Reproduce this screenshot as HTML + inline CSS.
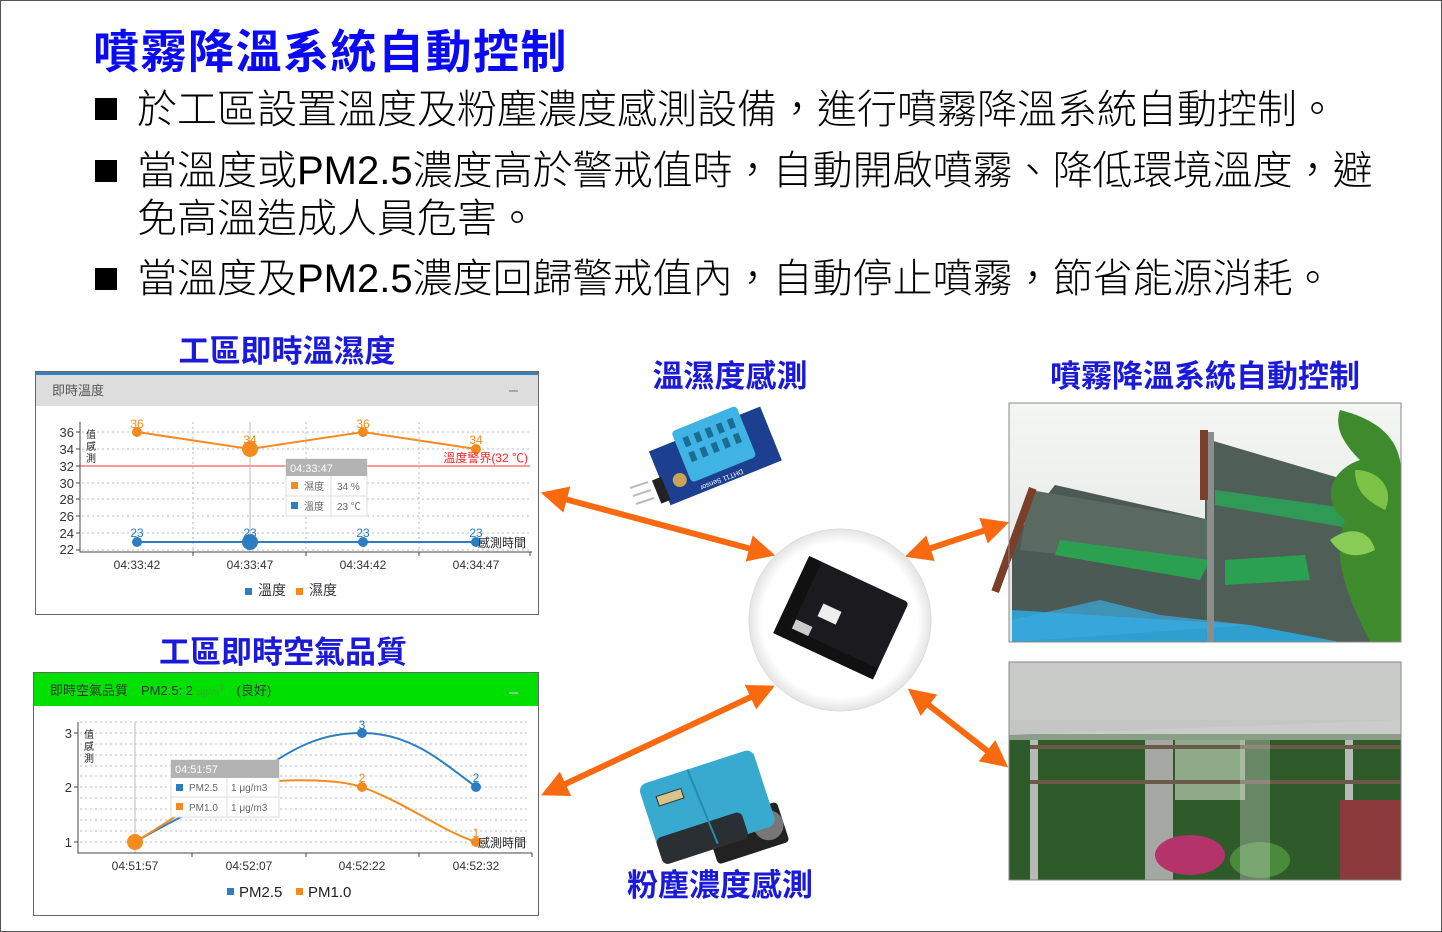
<!DOCTYPE html>
<html><head><meta charset="utf-8"><style>
body{margin:0;width:1442px;height:932px;overflow:hidden;background:#fff;font-family:"Liberation Sans","Noto Sans CJK TC",sans-serif}
.wrap{position:absolute;left:0;top:0;width:1440px;height:930px;border:1px solid #555}
.t{position:absolute;white-space:nowrap}
.b{font-size:40px;font-weight:300;line-height:1}
</style></head><body><div class="wrap"></div>
<div class="t" style="left:93px;top:22px;font-size:46px;font-weight:bold;color:#0a0af5;letter-spacing:1.5px;font-family:'Noto Sans CJK TC',sans-serif;line-height:1.2">噴霧降溫系統自動控制</div>
<div class="t" style="left:95px;top:98px;width:22px;height:22px;background:#000"></div>
<div class="t b" style="left:137px;top:90px">於工區設置溫度及粉塵濃度感測設備，進行噴霧降溫系統自動控制。</div>
<div class="t" style="left:95px;top:160px;width:22px;height:22px;background:#000"></div>
<div class="t b" style="left:137px;top:151px">當溫度或PM2.5濃度高於警戒值時，自動開啟噴霧、降低環境溫度，避</div>
<div class="t b" style="left:137px;top:199px">免高溫造成人員危害。</div>
<div class="t" style="left:95px;top:268px;width:22px;height:22px;background:#000"></div>
<div class="t b" style="left:137px;top:259px">當溫度及PM2.5濃度回歸警戒值內，自動停止噴霧，節省能源消耗。</div>

<svg width="1442" height="932" style="position:absolute;left:0;top:0" font-family="Liberation Sans,Noto Sans CJK TC,sans-serif">
<defs>
<marker id="ah" viewBox="0 0 10 10" refX="8" refY="5" markerWidth="4.5" markerHeight="4.5" orient="auto-start-reverse"><path d="M0,0L10,5L0,10z" fill="#f96a10"/></marker>
<radialGradient id="cg"><stop offset="0.85" stop-color="#fff"/><stop offset="1" stop-color="#e4e4e4"/></radialGradient>
<linearGradient id="sky" x1="0" y1="0" x2="0" y2="1"><stop offset="0" stop-color="#f4f6f4"/><stop offset="1" stop-color="#dfe3e0"/></linearGradient>
</defs>
<g font-weight="bold" fill="#1a1ad8" font-size="31" font-family="Noto Sans CJK TC,sans-serif">
<text x="287" y="362" text-anchor="middle">工區即時溫濕度</text>
<text x="730" y="387" text-anchor="middle">溫濕度感測</text>
<text x="1205" y="387" text-anchor="middle">噴霧降溫系統自動控制</text>
<text x="283" y="663" text-anchor="middle">工區即時空氣品質</text>
<text x="720" y="896" text-anchor="middle">粉塵濃度感測</text>
</g>

<rect x="35.5" y="371.5" width="503" height="243" fill="#fff" stroke="#666"/>
<rect x="36" y="372" width="502" height="34" fill="#ddd"/>
<rect x="36" y="372" width="502" height="3" fill="#3a7fb8"/>
<text x="52" y="395" font-size="13" fill="#555">即時溫度</text>
<rect x="509" y="390" width="9" height="2" fill="#9ab"/>
<g stroke="#bbb" stroke-dasharray="2,3" stroke-width="1">
<line x1="82" y1="432" x2="530" y2="432"/><line x1="82" y1="449" x2="530" y2="449"/><line x1="82" y1="483" x2="530" y2="483"/><line x1="82" y1="499" x2="530" y2="499"/><line x1="82" y1="516" x2="530" y2="516"/><line x1="82" y1="533" x2="530" y2="533"/><line x1="82" y1="550" x2="530" y2="550"/>
<line x1="193" y1="422" x2="193" y2="552"/><line x1="306" y1="422" x2="306" y2="552"/><line x1="419" y1="422" x2="419" y2="552"/>
</g>
<line x1="80" y1="466" x2="530" y2="466" stroke="#f33" stroke-width="1"/>
<line x1="250" y1="422" x2="250" y2="552" stroke="#bbb"/>
<path d="M80,422V552H532M80,432h-4M80,449h-4M80,466h-4M80,483h-4M80,499h-4M80,516h-4M80,533h-4M80,550h-4M193,552v4M306,552v4M419,552v4M530,552v4" stroke="#444" fill="none"/>
<g font-size="13" fill="#333" text-anchor="end"><text x="74" y="437">36</text><text x="74" y="454">34</text><text x="74" y="471">32</text><text x="74" y="488">30</text><text x="74" y="504">28</text><text x="74" y="521">26</text><text x="74" y="538">24</text><text x="74" y="554">22</text></g>
<text x="86" y="438" font-size="10" fill="#222">值</text><text x="86" y="450" font-size="10" fill="#222">感</text><text x="86" y="462" font-size="10" fill="#222">測</text>
<path d="M137,432L250,449L363,432L476,449" stroke="#f58a1f" stroke-width="2" fill="none"/>
<circle cx="137" cy="432" r="5" fill="#f58a1f"/><circle cx="250" cy="449" r="8" fill="#f58a1f"/><circle cx="363" cy="432" r="5" fill="#f58a1f"/><circle cx="476" cy="449" r="5" fill="#f58a1f"/>
<g font-size="12" fill="#f58a1f" text-anchor="middle"><text x="137" y="428">36</text><text x="250" y="444">34</text><text x="363" y="428">36</text><text x="476" y="444">34</text></g>
<text x="528" y="462" font-size="12" fill="#f22" text-anchor="end">溫度警界(32 ℃)</text>
<line x1="137" y1="542" x2="476" y2="542" stroke="#2d7ec0" stroke-width="2"/>
<circle cx="137" cy="542" r="5" fill="#2d7ec0"/><circle cx="250" cy="542" r="8" fill="#2d7ec0"/><circle cx="363" cy="542" r="5" fill="#2d7ec0"/><circle cx="476" cy="542" r="5" fill="#2d7ec0"/>
<g font-size="12" fill="#2d7ec0" text-anchor="middle"><text x="137" y="537">23</text><text x="250" y="537">23</text><text x="363" y="537">23</text><text x="476" y="537">23</text></g>
<text x="526" y="547" font-size="12" fill="#222" text-anchor="end">感測時間</text>
<g font-size="12" fill="#333" text-anchor="middle"><text x="137" y="569">04:33:42</text><text x="250" y="569">04:33:47</text><text x="363" y="569">04:34:42</text><text x="476" y="569">04:34:47</text></g>
<rect x="245" y="588" width="7" height="7" fill="#2d7ec0"/><text x="258" y="595" font-size="14" fill="#333">溫度</text>
<rect x="296" y="588" width="7" height="7" fill="#f58a1f"/><text x="309" y="595" font-size="14" fill="#333">濕度</text>
<rect x="286" y="459" width="81" height="57" fill="#fff" stroke="#ddd"/>
<rect x="286" y="459" width="81" height="17" fill="#b3b3b3"/>
<text x="290" y="472" font-size="11" fill="#fff">04:33:47</text>
<rect x="291" y="482" width="7" height="7" fill="#f58a1f"/><text x="304" y="490" font-size="10" fill="#666">濕度</text><text x="337" y="490" font-size="10" fill="#666">34 %</text>
<rect x="291" y="502" width="7" height="7" fill="#2d7ec0"/><text x="304" y="510" font-size="10" fill="#666">溫度</text><text x="337" y="510" font-size="10" fill="#666">23 ℃</text>
<line x1="286" y1="496" x2="367" y2="496" stroke="#ddd"/><line x1="331" y1="476" x2="331" y2="516" stroke="#ddd"/>

<rect x="33.5" y="672.5" width="505" height="243" fill="#fff" stroke="#666"/>
<rect x="34" y="673" width="504" height="33" fill="#00e000"/>
<text x="50" y="695" font-size="13" fill="#333">即時空氣品質　PM2.5: 2 <tspan font-size="10" fill="#3a3">μg/m</tspan><tspan font-size="8" dy="-5" fill="#3a3">3</tspan><tspan dy="5">　(良好)</tspan></text>
<rect x="509" y="692" width="9" height="2" fill="#8c8"/>
<g stroke="#bbb" stroke-dasharray="2,3">
<line x1="80" y1="722" x2="530" y2="722"/><line x1="80" y1="733" x2="530" y2="733"/><line x1="80" y1="744" x2="530" y2="744"/><line x1="80" y1="755" x2="530" y2="755"/><line x1="80" y1="766" x2="530" y2="766"/><line x1="80" y1="776" x2="530" y2="776"/><line x1="80" y1="787" x2="530" y2="787"/><line x1="80" y1="798" x2="530" y2="798"/><line x1="80" y1="809" x2="530" y2="809"/><line x1="80" y1="820" x2="530" y2="820"/><line x1="80" y1="831" x2="530" y2="831"/><line x1="80" y1="842" x2="530" y2="842"/>
</g>
<line x1="135" y1="722" x2="135" y2="853" stroke="#bbb"/>
<path d="M78,722V853H532M78,733h-4M78,787h-4M78,842h-4M192,853v4M306,853v4M419,853v4M532,853v4" stroke="#444" fill="none"/>
<g font-size="13" fill="#333" text-anchor="end"><text x="72" y="738">3</text><text x="72" y="792">2</text><text x="72" y="847">1</text></g>
<text x="84" y="738" font-size="10" fill="#222">值</text><text x="84" y="750" font-size="10" fill="#222">感</text><text x="84" y="762" font-size="10" fill="#222">測</text>
<path d="M135,842C190,810 220,800 249,780C300,740 330,733 362,733C410,733 440,760 476,787" stroke="#2d7ec0" stroke-width="2" fill="none"/>
<path d="M135,842C180,815 210,790 249,783C300,778 340,780 362,787C410,805 440,830 476,842" stroke="#f58a1f" stroke-width="2" fill="none"/>
<circle cx="362" cy="733" r="5" fill="#2d7ec0"/><circle cx="476" cy="787" r="5" fill="#2d7ec0"/>
<circle cx="362" cy="787" r="5" fill="#f58a1f"/><circle cx="476" cy="842" r="5" fill="#f58a1f"/><circle cx="135" cy="842" r="8" fill="#f58a1f"/>
<g font-size="12" text-anchor="middle"><text x="362" y="729" fill="#2d7ec0">3</text><text x="476" y="782" fill="#2d7ec0">2</text><text x="362" y="782" fill="#f58a1f">2</text><text x="476" y="837" fill="#f58a1f">1</text></g>
<text x="526" y="847" font-size="12" fill="#222" text-anchor="end">感測時間</text>
<g font-size="12" fill="#333" text-anchor="middle"><text x="135" y="870">04:51:57</text><text x="249" y="870">04:52:07</text><text x="362" y="870">04:52:22</text><text x="476" y="870">04:52:32</text></g>
<rect x="227" y="888" width="7" height="7" fill="#2d7ec0"/><text x="239" y="897" font-size="15" fill="#222">PM2.5</text>
<rect x="296" y="888" width="7" height="7" fill="#f58a1f"/><text x="308" y="897" font-size="15" fill="#222">PM1.0</text>
<rect x="171" y="760" width="108" height="57" fill="#fff" stroke="#ddd"/>
<rect x="171" y="760" width="108" height="18" fill="#b3b3b3"/>
<text x="175" y="773" font-size="11" fill="#fff">04:51:57</text>
<rect x="176" y="784" width="7" height="7" fill="#2d7ec0"/><text x="189" y="791" font-size="10" fill="#666">PM2.5</text><text x="231" y="791" font-size="10" fill="#666">1 μg/m3</text>
<rect x="176" y="803" width="7" height="7" fill="#f58a1f"/><text x="189" y="811" font-size="10" fill="#666">PM1.0</text><text x="231" y="811" font-size="10" fill="#666">1 μg/m3</text>
<line x1="171" y1="797" x2="279" y2="797" stroke="#ddd"/><line x1="227" y1="778" x2="227" y2="817" stroke="#ddd"/>

<g stroke="#f96a10" stroke-width="6" marker-start="url(#ah)" marker-end="url(#ah)">
<line x1="546" y1="494" x2="770" y2="554"/>
<line x1="910" y1="555" x2="1004" y2="524"/>
<line x1="546" y1="793" x2="770" y2="688"/>
<line x1="912" y1="692" x2="1004" y2="764"/>
</g>

<circle cx="840" cy="620" r="91" fill="url(#cg)" stroke="#ddd"/>
<g transform="translate(840,620) rotate(25)">
<rect x="-55" y="-45" width="110" height="85" rx="4" fill="#1b1b1f"/>
<rect x="-55" y="-45" width="14" height="85" fill="#111"/>
<rect x="-55" y="28" width="110" height="12" fill="#111"/>
<rect x="-22" y="-8" width="20" height="14" fill="#eee"/>
<rect x="-40" y="18" width="18" height="10" fill="#ccc"/>
</g>

<g transform="translate(715,455) rotate(-22)">
<rect x="-60" y="-28" width="120" height="58" fill="#1d3f8f"/>
<rect x="-32" y="-38" width="70" height="55" rx="4" fill="#3fb3e3"/>
<g fill="#1a6c95"><rect x="-24" y="-28" width="6" height="10"/><rect x="-12" y="-28" width="6" height="10"/><rect x="0" y="-28" width="6" height="10"/><rect x="12" y="-28" width="6" height="10"/><rect x="24" y="-28" width="6" height="10"/><rect x="-24" y="-12" width="6" height="10"/><rect x="-12" y="-12" width="6" height="10"/><rect x="0" y="-12" width="6" height="10"/><rect x="12" y="-12" width="6" height="10"/><rect x="24" y="-12" width="6" height="10"/></g>
<circle cx="-42" cy="10" r="7" fill="#c9a35a"/>
<rect x="-68" y="0" width="10" height="25" fill="#222"/>
<text x="20" y="27" font-size="7" fill="#fff" transform="rotate(180 20 25)">DHT11 Sensor</text>
</g>
<g stroke="#bbb" stroke-width="2"><line x1="630" y1="488" x2="648" y2="482"/><line x1="633" y1="496" x2="651" y2="490"/><line x1="636" y1="504" x2="654" y2="498"/></g>

<g transform="translate(715,790) rotate(-18)">
<rect x="-20" y="30" width="75" height="42" rx="4" fill="#222"/>
<circle cx="40" cy="50" r="15" fill="#777"/>
<rect x="-72" y="-28" width="120" height="80" rx="8" fill="#38a9cf"/>
<rect x="-72" y="28" width="90" height="28" rx="6" fill="#2a2f33"/>
<line x1="-20" y1="-28" x2="-14" y2="52" stroke="#2a8aad" stroke-width="2"/>
<rect x="-58" y="-12" width="26" height="10" fill="#d8c38a" stroke="#333"/>
</g>

<g>
<rect x="1009" y="403" width="392" height="239" fill="url(#sky)"/>
<polygon points="1012,540 1055,485 1210,520 1210,642 1012,642" fill="#4b5a55"/>
<polygon points="1205,455 1210,440 1380,490 1390,642 1205,642" fill="#4f5f58"/>
<polygon points="1030,490 1210,520 1210,570 1020,550" fill="#5a6a62"/>
<polygon points="1060,540 1210,560 1200,580 1055,555" fill="#2aa050"/>
<polygon points="1225,560 1305,555 1310,580 1225,585" fill="#2aa050"/>
<polygon points="1215,490 1360,510 1360,530 1215,505" fill="#2f9a55"/>
<polygon points="1012,610 1250,625 1340,642 1012,642" fill="#2f9fd0"/>
<polygon points="1012,620 1100,600 1160,615 1250,625 1012,642" fill="#3aabe0" opacity=".7"/>
<rect x="1010" y="485" width="8" height="110" fill="#7a3f28" transform="rotate(20 1014 540)"/>
<rect x="1207" y="432" width="7" height="210" fill="#8a8f8c"/>
<rect x="1200" y="430" width="8" height="70" fill="#7a3f28"/>
<path d="M1340,410 C1380,420 1400,440 1401,470 L1401,642 L1370,642 C1350,600 1330,560 1345,520 C1320,500 1330,470 1360,460 C1340,440 1335,425 1340,410Z" fill="#3e8a2c"/>
<path d="M1355,470 C1380,470 1395,490 1385,510 C1365,500 1355,490 1355,470Z" fill="#7cc244"/>
<path d="M1330,540 C1350,525 1370,530 1375,550 C1355,560 1340,555 1330,540Z" fill="#88cc55"/>
<rect x="1009" y="403" width="392" height="239" fill="none" stroke="#888"/>
</g>
<g>
<rect x="1009" y="662" width="392" height="218" fill="#3c6a35"/>
<rect x="1009" y="662" width="392" height="72" fill="#d7d9d7"/>
<polygon points="1009,662 1401,662 1401,720 1009,735" fill="#c8cbc8"/>
<rect x="1009" y="720" width="392" height="20" fill="#bfc3c0" opacity=".6"/>
<rect x="1009" y="740" width="392" height="140" fill="#2f5a2a"/>
<rect x="1175" y="740" width="70" height="60" fill="#cfe0c8" opacity=".6"/>
<rect x="1145" y="740" width="28" height="140" fill="#a5a8a2"/>
<rect x="1030" y="740" width="8" height="140" fill="#b7bab6"/>
<rect x="1345" y="740" width="8" height="140" fill="#b7bab6"/>
<rect x="1030" y="780" width="370" height="4" fill="#6c5a48"/>
<rect x="1030" y="745" width="370" height="4" fill="#6c5a48"/>
<rect x="1340" y="800" width="61" height="80" fill="#8a3a3a"/>
<ellipse cx="1190" cy="855" rx="35" ry="20" fill="#b3336a"/>
<ellipse cx="1260" cy="860" rx="30" ry="18" fill="#4b8a3a"/>
<rect x="1240" y="740" width="30" height="140" fill="#d5ddd5" opacity=".35"/>
<rect x="1009" y="662" width="392" height="218" fill="none" stroke="#888"/>
</g>
</svg>
</body></html>
